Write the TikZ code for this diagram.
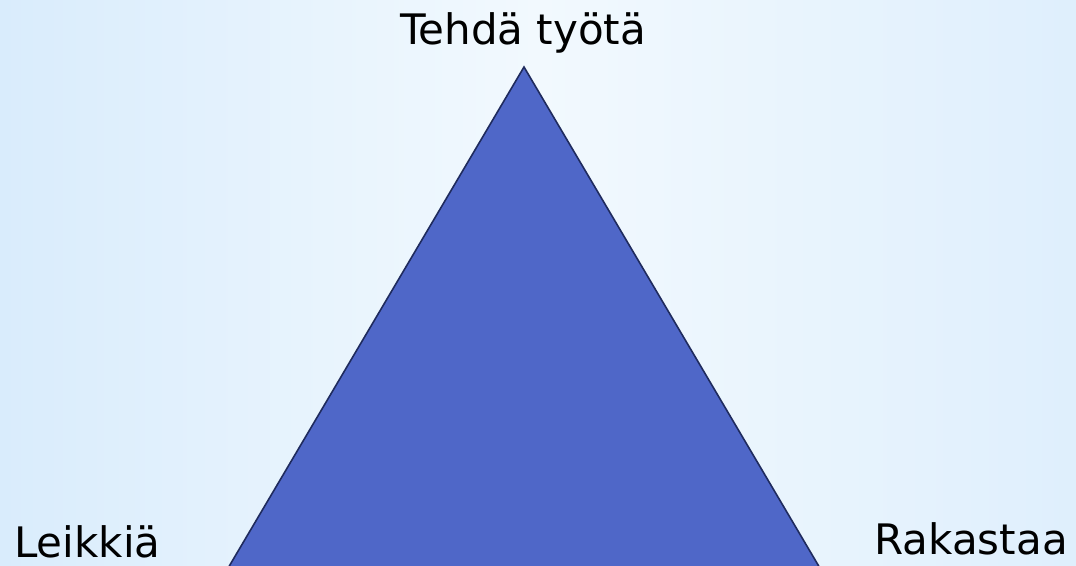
\documentclass[tikz,border=0pt]{standalone}
\usepackage{fontspec}
\setmainfont{DejaVu Sans}
\usepackage{xcolor}
\usetikzlibrary{calc, positioning}
\definecolor{bgside}{HTML}{D9ECFC}
\definecolor{bgmid}{HTML}{F2F9FE}
\definecolor{trifill}{HTML}{4F67C8}
\definecolor{triline}{HTML}{1F2B5E}

\begin{document}
\begin{tikzpicture}[x=0.75pt, y=-0.75pt, label/.style={anchor=base, inner sep=0pt, text depth=0pt, font=\fontsize{31.5}{34}\selectfont}]
      \fill[left color=bgside, right color=bgside!85!white, middle color=bgmid] (0,0) rectangle (1076,566);
      \useasboundingbox (0,0) rectangle (1076,566);
      \coordinate (top) at (524,67);
      \coordinate (left) at (229,566.5);
      \coordinate (right) at (819,566.5);
      \fill[trifill] (left) -- (top) -- (right) -- cycle;
      \draw[triline, line width=1.2pt] (left) -- (top) -- (right);
      \node[label] (work) at (523,45) {Tehdä työtä};
      \node[label, anchor=base west] (play) at (14,558) {Leikkiä};
      \node[label, anchor=base east] (love) at (1068,555) {Rakastaa};
    \end{tikzpicture}
\end{document}
